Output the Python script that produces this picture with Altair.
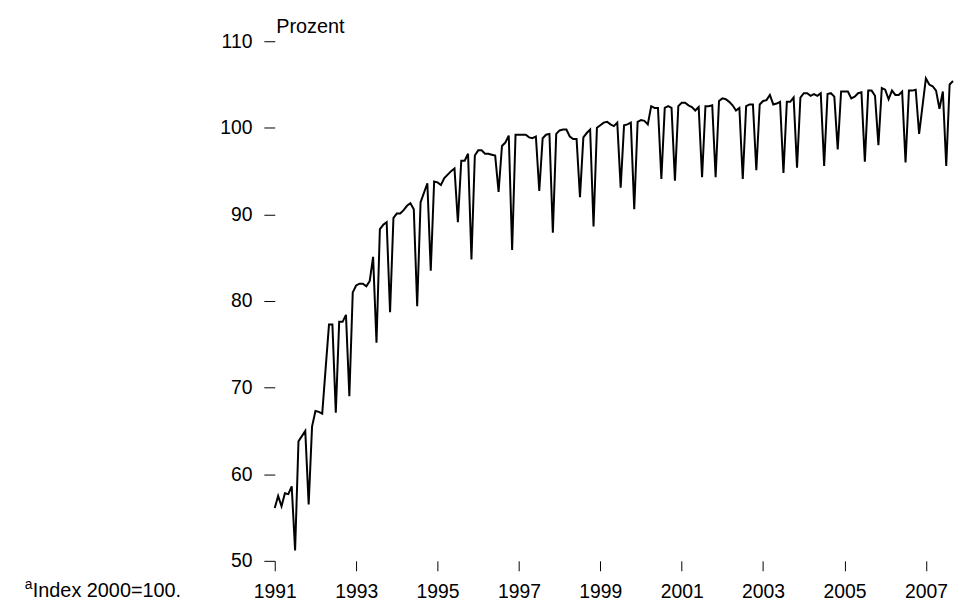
import altair as alt
import pandas as pd

# Monthly index values (Index 2000=100), January 1991 onwards
values = [
    56.1, 57.5, 56.3, 57.8, 57.7, 58.6, 51.2, 63.8, 64.4, 65.0, 56.5, 65.5,
    67.3, 67.2, 67.0, 72.2, 77.3, 77.3, 67.1, 77.6, 77.6, 78.4, 69.0, 81.0,
    81.8, 82.0, 82.0, 81.7, 82.3, 85.1, 75.2, 88.3, 88.8, 89.1, 78.7, 89.6,
    90.1, 90.1, 90.5, 91.0, 91.3, 90.6, 79.4, 91.4, 92.5, 93.6, 83.5, 93.8,
    93.7, 93.4, 94.2, 94.6, 95.0, 95.3, 89.1, 96.2, 96.2, 97.0, 84.8, 96.8,
    97.4, 97.4, 97.0, 97.0, 96.9, 96.8, 92.6, 97.9, 98.3, 99.1, 85.9, 99.2,
    99.2, 99.2, 99.2, 98.9, 98.8, 99.0, 92.7, 98.8, 99.2, 99.3, 87.9, 99.3,
    99.7, 99.8, 99.8, 99.0, 98.7, 98.7, 92.0, 98.9, 99.4, 99.8, 88.6, 100.0,
    100.3, 100.6, 100.7, 100.4, 100.2, 100.6, 93.1, 100.3, 100.4, 100.6, 90.6, 100.7,
    100.9, 100.8, 100.4, 102.5, 102.3, 102.3, 94.1, 102.3, 102.5, 102.3, 93.9, 102.5,
    102.9, 102.9, 102.6, 102.4, 102.0, 102.4, 94.3, 102.5, 102.5, 102.6, 94.3, 103.1,
    103.4, 103.3, 103.0, 102.6, 102.0, 102.3, 94.1, 102.5, 102.7, 102.7, 95.1, 102.7,
    103.1, 103.2, 103.8, 102.7, 102.8, 103.0, 94.8, 103.0, 103.0, 103.5, 95.4, 103.5,
    104.0, 104.0, 103.7, 103.9, 103.7, 104.0, 95.6, 103.9, 104.0, 103.6, 97.5, 104.2,
    104.2, 104.2, 103.4, 103.6, 104.0, 104.1, 96.1, 104.3, 104.3, 103.7, 98.0, 104.6,
    104.4, 103.3, 104.3, 103.8, 103.8, 104.2, 96.0, 104.3, 104.3, 104.4, 99.3, 102.5,
    105.7, 105.0, 104.8, 104.3, 102.2, 104.2, 95.6, 105.0, 105.4,
]
start_year = 1991
x_ticks = [1991, 1993, 1995, 1997, 1999, 2001, 2003, 2005, 2007]
y_ticks = [50, 60, 70, 80, 90, 100, 110]
y_title = "Prozent"
footnote_sup = ["a"]
footnote_text = ["Index 2000=100."]

df = pd.DataFrame({
    "t": [start_year + i / 12 for i in range(len(values))],
    "v": values,
})

FONT = "Liberation Sans Narrow, Arial Narrow, Liberation Sans, Arial, sans-serif"
x_end = start_year + (len(values) - 1) / 12

line = alt.Chart(df).mark_line(color="black", strokeWidth=2).encode(
    x=alt.X(
        "t:Q",
        scale=alt.Scale(domain=[start_year, x_end], nice=False, zero=False),
        axis=alt.Axis(
            values=x_ticks, format="d", domain=False, grid=False,
            tickSize=10, tickColor="black", tickWidth=1,
            labelFont=FONT, labelFontSize=19.5, labelColor="black",
            labelPadding=27, labelFlush=False, labelOverlap=False,
            labelBaseline="alphabetic", title=None,
        ),
    ),
    y=alt.Y(
        "v:Q",
        scale=alt.Scale(domain=[50, 110], nice=False, zero=False),
        axis=alt.Axis(
            values=y_ticks, domain=False, grid=False,
            tickSize=11, tickColor="black", tickWidth=1,
            labelFont=FONT, labelFontSize=19.5, labelColor="black",
            labelPadding=12, labelFlush=False, labelOverlap=False,
            title=y_title, titleAngle=0, titleX=1, titleY=-9,
            titleAlign="left", titleBaseline="alphabetic",
            titleFont=FONT, titleFontSize=20, titleFontWeight="normal",
            titleColor="black",
        ),
    ),
)

sup = alt.Chart(pd.DataFrame({"s": footnote_sup})).mark_text(
    align="left", baseline="alphabetic", font=FONT, fontSize=14, color="black"
).encode(x=alt.value(-252), y=alt.value(552), text="s:N")

note = alt.Chart(pd.DataFrame({"s": footnote_text})).mark_text(
    align="left", baseline="alphabetic", font=FONT, fontSize=20, color="black"
).encode(x=alt.value(-244), y=alt.value(560), text="s:N")

chart = alt.layer(line, sup, note).properties(
    width=684, height=524,
    autosize=alt.AutoSizeParams(type="none"),
    padding={"left": 269, "top": 31, "right": 2, "bottom": 39},
    background="white",
).configure_view(stroke=None)

chart.save("out.html", embed_options={"renderer": "svg", "actions": False})
